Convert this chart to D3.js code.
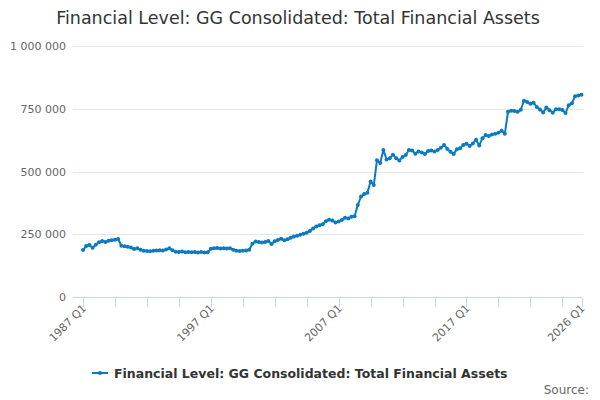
<!DOCTYPE html>
<html>
<head>
<meta charset="utf-8">
<script src="https://cdn.jsdelivr.net/npm/d3@7"></script>
<style>
  body { margin: 0; background: #fff; }
  text { font-family: "DejaVu Sans", sans-serif; }
</style>
</head>
<body>
<svg id="chart" width="600" height="400"></svg>
<script>
// quarterly series, 1987 Q1 .. 2026 Q1 (thousands)
var startYear = 1987
var values = [
  187,203,207,196,208,218,223,219,224,226,228,231,204,202,200,197,191,194,188,184,
  183,182,184,185,186,185,189,194,186,180,179,181,178,179,178,179,177,179,177,178,
  192,194,195,193,194,193,194,188,184,183,184,185,188,212,221,219,217,219,223,211,
  222,227,232,226,230,236,241,244,248,252,256,263,273,281,286,290,302,308,305,297,
  301,307,316,313,320,322,367,400,410,415,460,446,545,534,586,548,553,567,553,544,
  558,566,586,584,571,580,576,570,582,584,580,586,595,606,590,579,570,589,593,606,
  611,602,612,626,604,632,645,641,647,650,654,662,650,738,742,741,738,746,782,777,
  770,774,757,747,735,755,744,734,748,748,745,733,764,772,800,803,806
].map(function(v){ return v*1000 })
var categories = values.map(function(d,i){
  return (startYear + Math.floor(i/4)) + " Q" + (i%4+1)
})
var yTicks = [0, 250000, 500000, 750000, 1000000]
var labelIdx = [0, 40, 80, 120, 156]
var seriesName = "Financial Level: GG Consolidated: Total Financial Assets"
var color = "#0b7bc1"

var svg = d3.select("#chart")
var x = d3.scaleLinear().domain([0, values.length-1]).range([83, 581.5])
var y = d3.scaleLinear().domain([0, 1000000]).range([297, 46])
var fmt = function(v){ return d3.format(",")(v).replace(/,/g," ") }

// title
svg.append("text")
  .attr("x", 298).attr("y", 24)
  .attr("text-anchor","middle")
  .style("font-size","17.5px").style("fill","#333")
  .text(seriesName)

// grid + y labels
svg.append("g").selectAll("line").data(yTicks.slice(1)).enter()
  .append("line")
  .attr("x1", 73).attr("x2", 583)
  .attr("y1", function(d){ return Math.round(y(d))+0.5 })
  .attr("y2", function(d){ return Math.round(y(d))+0.5 })
  .attr("stroke","#e6e6e6")
svg.append("g").selectAll("text").data(yTicks).enter()
  .append("text")
  .attr("x", 66).attr("y", function(d){ return y(d)+4 })
  .attr("text-anchor","end")
  .style("font-size","11px").style("fill","#666")
  .text(fmt)

// x axis
var xg = svg.append("g")
xg.append("line")
  .attr("x1", 73).attr("x2", 583).attr("y1", 297.5).attr("y2", 297.5)
  .attr("stroke","#ccd6eb")
var tickIdx = d3.range(0, values.length, 10).concat([values.length-1])
xg.selectAll("line.tick").data(tickIdx).enter()
  .append("line").attr("class","tick")
  .attr("x1", function(d){ return Math.round(x(d))+0.5 })
  .attr("x2", function(d){ return Math.round(x(d))+0.5 })
  .attr("y1", 297).attr("y2", 307)
  .attr("stroke","#ccd6eb")
xg.selectAll("text").data(labelIdx).enter()
  .append("text")
  .attr("transform", function(d){ return "translate(" + (x(d)+4) + ",309) rotate(-45)" })
  .attr("text-anchor","end")
  .style("font-size","11px").style("fill","#666")
  .text(function(d){ return categories[d] })

// series
var line = d3.line()
  .x(function(d,i){ return x(i) })
  .y(function(d){ return y(d) })
svg.append("path").datum(values)
  .attr("d", line)
  .attr("fill","none").attr("stroke", color).attr("stroke-width", 2)
  .attr("stroke-linejoin","round")
svg.append("g").selectAll("circle").data(values).enter()
  .append("circle")
  .attr("cx", function(d,i){ return x(i) })
  .attr("cy", function(d){ return y(d) })
  .attr("r", 2).attr("fill", color)

// legend
var lg = svg.append("g").attr("transform","translate(92,373)")
lg.append("line").attr("x1",0).attr("x2",16).attr("y1",0).attr("y2",0)
  .attr("stroke", color).attr("stroke-width",2)
lg.append("circle").attr("cx",8).attr("cy",0).attr("r",2).attr("fill",color)
lg.append("text").attr("x",22).attr("y",4.5)
  .style("font-size","12.5px").style("font-weight","bold").style("fill","#333")
  .text(seriesName)

// credits
svg.append("text")
  .attr("x", 589).attr("y", 394)
  .attr("text-anchor","end")
  .style("font-size","12px").style("fill","#666")
  .text("Source:")
</script>
</body>
</html>
